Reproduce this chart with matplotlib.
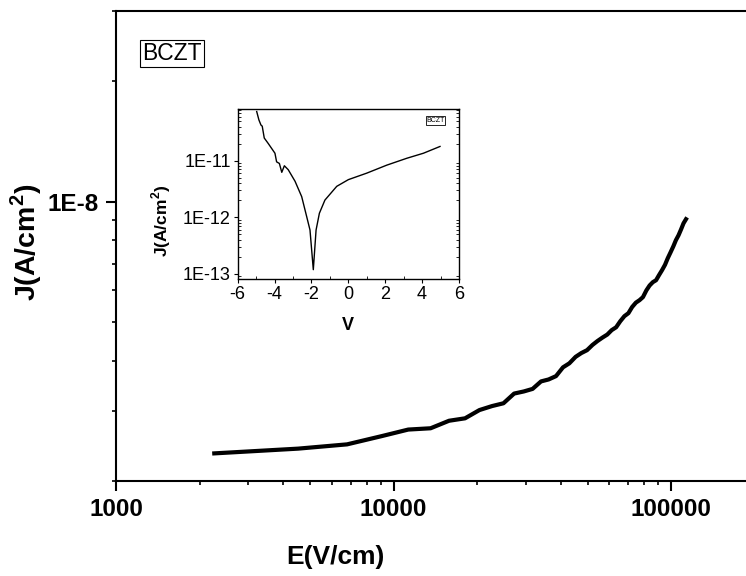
import matplotlib
matplotlib.use("Agg")
import matplotlib.pyplot as plt
from matplotlib.ticker import FixedLocator, LogLocator, NullFormatter, MultipleLocator

plt.rcParams['font.family'] = ['Liberation Sans', 'DejaVu Sans']
plt.rcParams['mathtext.fontset'] = 'custom'
plt.rcParams['mathtext.rm'] = 'Liberation Sans'
plt.rcParams['mathtext.bf'] = 'Liberation Sans:bold'
plt.rcParams['axes.unicode_minus'] = False

# Leakage current density vs. electric field (main panel)
E_field = [2260, 4530, 6800, 9060, 11300, 13600, 15850, 18100, 20400, 22650,
           24900, 27200, 29450, 31700, 34000, 36200, 38500, 40800, 43000, 45300,
           47500, 49800, 52100, 54300, 56600, 58900, 61100, 63400, 65600, 67900,
           70200, 72400, 74700, 77000, 79200, 81500, 83700, 86000, 88300, 90500,
           92800, 95100, 97300, 99600, 101900, 104100, 106400, 108700, 110900, 113200]
J_field = [2.345e-9, 2.41e-9, 2.47e-9, 2.59e-9, 2.69e-9, 2.71e-9, 2.83e-9, 2.87e-9, 3.01e-9, 3.08e-9,
           3.13e-9, 3.31e-9, 3.35e-9, 3.40e-9, 3.55e-9, 3.59e-9, 3.66e-9, 3.85e-9, 3.94e-9, 4.09e-9,
           4.18e-9, 4.25e-9, 4.38e-9, 4.48e-9, 4.57e-9, 4.65e-9, 4.77e-9, 4.85e-9, 5.02e-9, 5.17e-9,
           5.26e-9, 5.45e-9, 5.59e-9, 5.67e-9, 5.77e-9, 6.00e-9, 6.17e-9, 6.29e-9, 6.36e-9, 6.55e-9,
           6.74e-9, 6.95e-9, 7.22e-9, 7.47e-9, 7.73e-9, 8.01e-9, 8.24e-9, 8.53e-9, 8.83e-9, 9.04e-9]

# J-V sweep (inset)
V_inset = [-4.97, -4.85, -4.74, -4.67, -4.56, -4.34, -3.98, -3.89, -3.74, -3.61,
           -3.47, -3.26, -2.89, -2.53, -2.26, -2.08, -1.90, -1.75, -1.57, -1.27,
           -0.63, 0.0, 1.0, 2.08, 3.17, 4.07, 4.97]
J_inset = [7.4e-11, 5.25e-11, 4.27e-11, 4.07e-11, 2.51e-11, 2.0e-11, 1.35e-11, 9.5e-12, 8.9e-12, 6.2e-12,
           8.1e-12, 6.9e-12, 4.3e-12, 2.3e-12, 1.02e-12, 5.9e-13, 1.17e-13, 5.9e-13, 1.17e-12, 2.0e-12,
           3.5e-12, 4.6e-12, 6.0e-12, 8.3e-12, 1.10e-11, 1.35e-11, 1.78e-11]

main_xticks = [1000, 10000, 100000]
main_xlabels = ['1000', '10000', '100000']
main_yticks = [1e-8]
main_ylabels = ['1E-8']
inset_xticks = [-6, -4, -2, 0, 2, 4, 6]
inset_yticks = [1e-13, 1e-12, 1e-11]
inset_ylabels = ['1E-13', '1E-12', '1E-11']

W, H = 746, 576
fig = plt.figure(figsize=(W / 100, H / 100), dpi=100)

# main axes (right part runs past the figure edge)
ax = fig.add_axes([116 / W, (H - 481) / H, (754.6 - 116) / W, (481 - 11) / H])
ax.plot(E_field, J_field, color='black', lw=3.0, solid_joinstyle='round')
ax.set_xscale('log')
ax.set_yscale('log')
ax.set_xlim(1000, 2e5)
ax.set_ylim(2e-9, 3e-8)
ax.spines['right'].set_visible(False)
for s in ax.spines.values():
    s.set_linewidth(1.5)

ax.xaxis.set_major_locator(FixedLocator(main_xticks))
ax.set_xticklabels(main_xlabels)
ax.xaxis.set_minor_locator(LogLocator(base=10, subs=range(2, 10), numticks=20))
ax.xaxis.set_minor_formatter(NullFormatter())
ax.yaxis.set_major_locator(FixedLocator(main_yticks))
ax.set_yticklabels(main_ylabels)
ax.yaxis.set_minor_locator(LogLocator(base=10, subs=range(2, 10), numticks=20))
ax.yaxis.set_minor_formatter(NullFormatter())
ax.tick_params(which='major', direction='out', length=7.5, width=1.5, pad=5,
               labelsize=17.5)
ax.tick_params(which='minor', direction='out', length=3, width=1.2)
for lbl in ax.get_xticklabels() + ax.get_yticklabels():
    lbl.set_fontweight('bold')

ax.set_xlabel('E(V/cm)', fontsize=19, fontweight='bold')
ax.xaxis.set_label_coords((335 - 116) / (754.6 - 116), (481 - 545) / 470)
ax.set_ylabel(r'J(A/cm$^{\mathbf{2}}$)', fontsize=20.5, fontweight='bold')
ax.yaxis.set_label_coords((44 - 116) / (754.6 - 116), (481 - 242) / 470)

ax.text((172 - 116) / (754.6 - 116), (481 - 53.5) / 470, 'BCZT', fontsize=16.5,
        ha='center', va='center', transform=ax.transAxes,
        bbox=dict(boxstyle='square,pad=0.08', fc='white', ec='black', lw=0.8))

# inset
ins = fig.add_axes([237.7 / W, (H - 279) / H, (459 - 237.7) / W, (279 - 109) / H])
ins.plot(V_inset, J_inset, color='black', lw=1.0)
ins.set_yscale('log')
ins.set_xlim(-6, 6)
ins.set_ylim(8e-14, 8.2e-11)
for s in ins.spines.values():
    s.set_linewidth(1.0)
ins.xaxis.set_major_locator(FixedLocator(inset_xticks))
ins.xaxis.set_minor_locator(MultipleLocator(1))
ins.yaxis.set_major_locator(FixedLocator(inset_yticks))
ins.set_yticklabels(inset_ylabels)
ins.yaxis.set_minor_locator(LogLocator(base=10, subs=range(2, 10), numticks=20))
ins.yaxis.set_minor_formatter(NullFormatter())
ins.tick_params(which='major', direction='out', length=3, width=0.8, pad=2,
                labelsize=13)
ins.tick_params(which='minor', direction='in', length=2, width=0.6, right=True)

ins.set_xlabel('V', fontsize=13, fontweight='bold')
ins.xaxis.set_label_coords((348 - 237.7) / 221.3, (279 - 317) / 170)
ins.set_ylabel(r'J(A/cm$^{\mathbf{2}}$)', fontsize=12.5, fontweight='bold')
ins.yaxis.set_label_coords((173 - 237.7) / 221.3, (279 - 221) / 170)

ins.text((435.5 - 237.7) / 221.3, (279 - 120.5) / 170, 'BCZT', fontsize=5,
         ha='center', va='center', transform=ins.transAxes,
         bbox=dict(boxstyle='square,pad=0.1', fc='white', ec='black', lw=0.6))

fig.savefig('out.png', dpi=100)
